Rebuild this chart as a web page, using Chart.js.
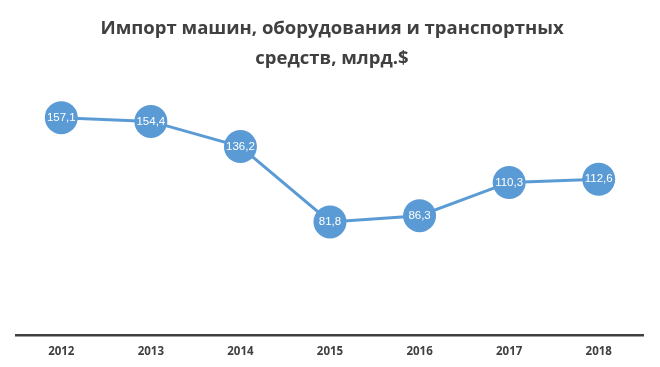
<!DOCTYPE html>
<html><head><meta charset="utf-8">
<script src="https://cdn.jsdelivr.net/npm/chart.js@4/dist/chart.umd.min.js"></script>
<style>html,body{margin:0;padding:0;background:#fff}#wrap{width:660px;height:367px}</style>
</head><body><div id="wrap"><canvas id="c" width="660" height="367"></canvas></div>
<script>
const categories = ["2012","2013","2014","2015","2016","2017","2018"];
const values = [157.1, 154.4, 136.2, 81.8, 86.3, 110.3, 112.6];
const valueLabels = ["157,1","154,4","136,2","81,8","86,3","110,3","112,6"];
const titleLines = ["Импорт машин, оборудования и транспортных", "средств, млрд.$"];

const labelPlugin = {
  id: 'ptLabels',
  afterDatasetsDraw(chart) {
    const ctx = chart.ctx;
    const meta = chart.getDatasetMeta(0);
    ctx.save();
    ctx.fillStyle = '#ffffff';
    ctx.font = '11.5px "Liberation Sans"';
    ctx.textAlign = 'center';
    ctx.textBaseline = 'middle';
    meta.data.forEach((pt, i) => {
      ctx.fillText(valueLabels[i], pt.x, pt.y);
    });
    ctx.restore();
  }
};

new Chart(document.getElementById('c'), {
  type: 'line',
  data: {
    labels: categories,
    datasets: [{
      data: values,
      borderColor: '#5B9BD5',
      backgroundColor: '#5B9BD5',
      borderWidth: 3,
      pointRadius: 16.5,
      pointHoverRadius: 16.5,
      pointBackgroundColor: '#5B9BD5',
      pointBorderWidth: 0,
      tension: 0,
      clip: false
    }]
  },
  options: {
    responsive: false,
    animation: false,
    devicePixelRatio: 1,
    layout: { padding: { left: 16, right: 12, top: 14, bottom: -2 } },
    plugins: {
      legend: { display: false },
      tooltip: { enabled: false },
      title: {
        display: true,
        text: titleLines,
        color: '#404040',
        font: { family: '"Open Sans"', size: 18.5, weight: 'bold', lineHeight: 1.62 },
        padding: { top: 0, bottom: 12 }
      }
    },
    scales: {
      x: {
        offset: true,
        grid: { display: false, drawTicks: false },
        border: { display: true, color: '#404040', width: 2.5 },
        ticks: { color: '#404040', font: { family: '"Open Sans"', size: 11.5, weight: 'bold' }, padding: 10 }
      },
      y: {
        display: false,
        min: 0,
        max: 180
      }
    }
  },
  plugins: [labelPlugin]
});
</script></body></html>
